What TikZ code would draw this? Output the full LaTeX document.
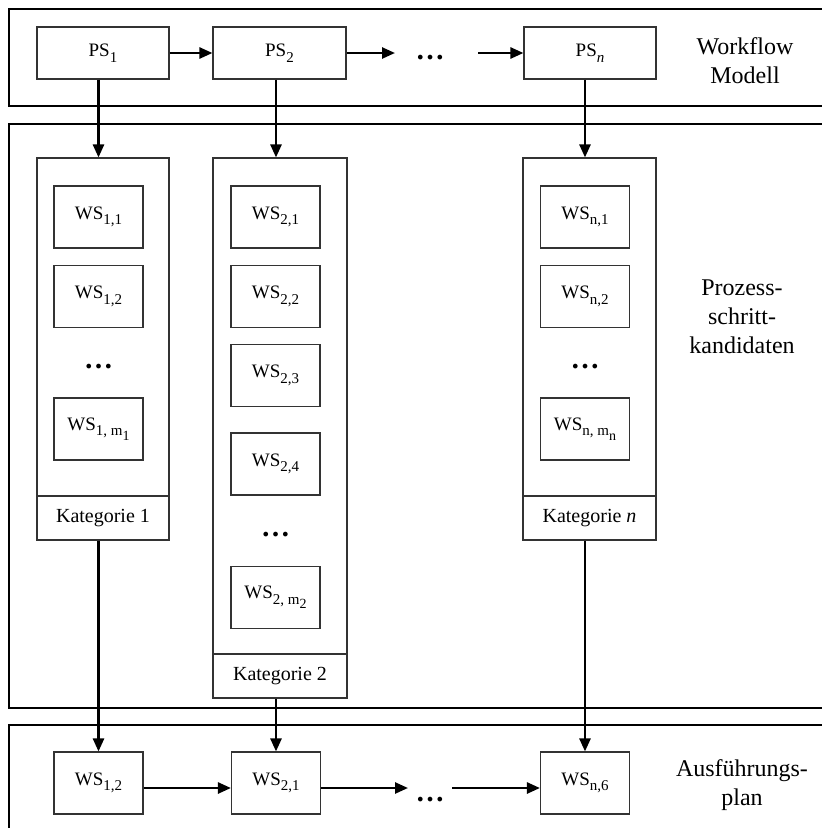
\documentclass[tikz,border=0pt]{standalone}
\usepackage{fontspec}
\setmainfont{Liberation Serif}
\usetikzlibrary{arrows.meta}

% lowered index set at a fixed, fairly large size
\newcommand{\lowsub}[1]{\raisebox{-0.3em}{\fontsize{15}{15}\selectfont #1}}
\newcommand{\innersub}[1]{\raisebox{-0.3em}{\fontsize{14}{14}\selectfont #1}}

\tikzset{
  band/.style={draw=black, line width=1.3pt},
  box/.style={draw=black!80, line width=1.1pt, inner sep=0pt, align=center,
              font=\fontsize{19}{22}\selectfont},
  psbox/.style={box, minimum width=132pt, minimum height=52pt},
  wsbox/.style={box, minimum width=89pt, minimum height=62pt},
  colbox/.style={draw=black!80, line width=1.1pt, inner sep=0pt},
  katbox/.style={box, minimum height=44pt, font=\fontsize{20}{23}\selectfont},
  side/.style={align=center, font=\fontsize{24}{29}\selectfont},
  gap/.style={inner sep=0pt, font=\fontsize{29}{32}\selectfont\bfseries},
  arr/.style={line width=2.5pt, -{Triangle[length=13pt,width=11pt]}}
}

\begin{document}
\begin{tikzpicture}[x=1pt,y=-1pt]
\useasboundingbox (0,0) rectangle (822,828);

% three horizontal bands
\draw[band] (9,9) rectangle (840,106);
\draw[band] (9,124) rectangle (840,708);
\draw[band] (9,725) rectangle (840,850);

% side labels
\node[side] (lab1) at (745,61) {Workflow\\Modell};
\node[side] (lab2) at (742,317) {Prozess-\\schritt-\\kandidaten};
\node[side] (lab3) at (742,785) {Ausführungs-\\plan};

% process steps
\node[psbox] (ps1) at (103,53) {PS\lowsub{1}};
\node[psbox, minimum width=133pt] (ps2) at (279.5,53) {PS\lowsub{2}};
\node[psbox] (psn) at (590,53) {PS\lowsub{\itshape n}};
\node[gap] (tdots) at (430,58) {…};
\coordinate (t1) at (395,53);
\coordinate (t2) at (478,53);

% candidate columns
\node[colbox, minimum width=132pt, minimum height=338pt] (col1) at (103,327) {};
\node[katbox, minimum width=132pt] (kat1) at (103,518) {Kategorie 1};
\node[colbox, minimum width=134pt, minimum height=496pt] (col2) at (280,406) {};
\node[katbox, minimum width=134pt] (kat2) at (280,676) {Kategorie 2};
\node[colbox, minimum width=133pt, minimum height=338pt] (coln) at (589.5,327) {};
\node[katbox, minimum width=133pt] (katn) at (589.5,518) {Kategorie \textit{n}};

% column 1
\node[wsbox] (w11) at (98.5,217) {WS\lowsub{1,1}};
\node[wsbox] (w12) at (98.5,296.5) {WS\lowsub{1,2}};
\node[gap] (d1) at (98.5,367) {…};
\node[wsbox] (w1m) at (98.5,429) {WS\lowsub{1, m\innersub{1}}};

% column 2
\node[wsbox] (w21) at (275.5,217) {WS\lowsub{2,1}};
\node[wsbox] (w22) at (275.5,296.5) {WS\lowsub{2,2}};
\node[wsbox] (w23) at (275.5,375.5) {WS\lowsub{2,3}};
\node[wsbox] (w24) at (275.5,464) {WS\lowsub{2,4}};
\node[gap] (d2) at (275.5,535) {…};
\node[wsbox] (w2m) at (275.5,597.5) {WS\lowsub{2, m\innersub{2}}};

% column n
\node[wsbox] (wn1) at (585,217) {WS\lowsub{n,1}};
\node[wsbox] (wn2) at (585,296.5) {WS\lowsub{n,2}};
\node[gap] (dn) at (585,367) {…};
\node[wsbox] (wnm) at (585,429) {WS\lowsub{n, m\innersub{n}}};

% execution plan
\node[wsbox] (b1) at (98.5,783) {WS\lowsub{1,2}};
\node[wsbox] (b2) at (276,783) {WS\lowsub{2,1}};
\node[wsbox] (bn) at (585,783) {WS\lowsub{n,6}};
\node[gap] (bdots) at (430,800) {…};
\coordinate (u1) at (408,788);
\coordinate (u2) at (452,788);

% connectors in the workflow model
\draw[arr] (ps1.east) -- (ps2.west);
\draw[arr] (ps2.east) -- (t1);
\draw[arr] (t2) -- (psn.west);

% process steps to candidate columns
\draw[arr] (b1 |- ps1.south) -- (b1 |- col1.north);
\draw[arr] (b2 |- ps2.south) -- (b2 |- col2.north);
\draw[arr] (bn |- psn.south) -- (bn |- coln.north);

% chosen candidates to the plan
\draw[arr] (b1 |- kat1.south) -- (b1.north);
\draw[arr] (b2 |- kat2.south) -- (b2.north);
\draw[arr] (bn |- katn.south) -- (bn.north);

% connectors in the plan
\draw[arr] ([yshift=-5pt]b1.east) -- ([yshift=-5pt]b2.west);
\draw[arr] ([yshift=-5pt]b2.east) -- (u1);
\draw[arr] (u2) -- ([yshift=-5pt]bn.west);
\end{tikzpicture}
\end{document}
